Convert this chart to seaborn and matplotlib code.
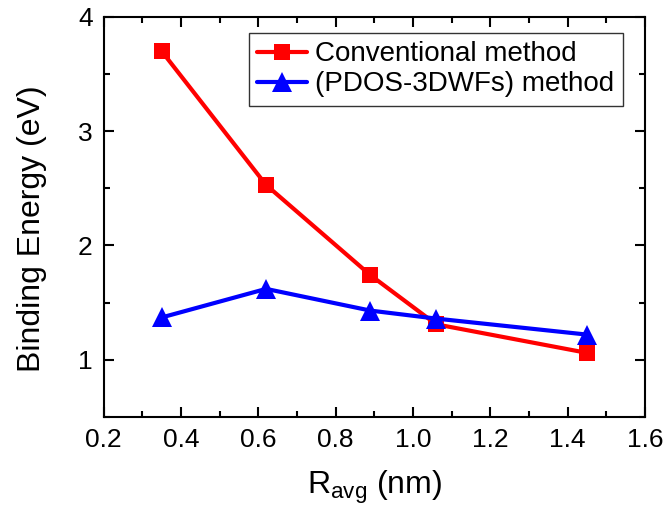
import matplotlib
matplotlib.use("Agg")
import matplotlib.pyplot as plt
import seaborn as sns
from matplotlib.ticker import MultipleLocator, FormatStrFormatter

# Average radius (nm) and binding energies (eV) for the two methods
r_avg = [0.35, 0.62, 0.89, 1.06, 1.45]
conventional = [3.70, 2.53, 1.74, 1.31, 1.06]
pdos_3dwfs = [1.37, 1.62, 1.43, 1.36, 1.22]
series_names = ["Conventional method", "(PDOS-3DWFs) method"]

sns.set_style("ticks", rc={
    "text.color": "black",
    "axes.labelcolor": "black",
    "xtick.color": "black",
    "ytick.color": "black",
    "axes.edgecolor": "black",
})
plt.rcParams["font.family"] = ["Liberation Sans", "DejaVu Sans"]
plt.rcParams["mathtext.fontset"] = "custom"
plt.rcParams["mathtext.rm"] = "Liberation Sans"

fig = plt.figure(figsize=(6.69, 5.14), dpi=100)
ax = fig.add_axes([0.155, 0.189, 0.809, 0.778])

sns.lineplot(x=r_avg, y=conventional, color="#ff0000", marker="s",
             markersize=11, linewidth=3, markeredgewidth=0,
             label=series_names[0], ax=ax)
sns.lineplot(x=r_avg, y=pdos_3dwfs, color="#0000ff", marker="^",
             markersize=14, linewidth=3, markeredgewidth=0,
             label=series_names[1], ax=ax)

ax.set_xlim(0.2, 1.6)
ax.set_ylim(0.5, 4)
ax.xaxis.set_major_locator(MultipleLocator(0.2))
ax.xaxis.set_minor_locator(MultipleLocator(0.1))
ax.yaxis.set_major_locator(MultipleLocator(1))
ax.yaxis.set_minor_locator(MultipleLocator(0.5))
ax.xaxis.set_major_formatter(FormatStrFormatter("%.1f"))

ax.tick_params(which="both", direction="in", top=True, right=True,
               width=1.5, colors="black")
ax.tick_params(which="major", length=7, labelsize=19, pad=8)
ax.tick_params(which="minor", length=4)
for sp in ax.spines.values():
    sp.set_linewidth(1.5)
    sp.set_color("black")

ax.set_xlabel(r"R$_{\mathrm{avg}}$ (nm)", fontsize=23, labelpad=12)
ax.set_ylabel("Binding Energy (eV)", fontsize=23, labelpad=22, y=0.47)

leg = ax.legend(loc="upper right", bbox_to_anchor=(0.959, 0.96),
                fontsize=20, frameon=True, fancybox=False,
                edgecolor="black", handlelength=1.8, handletextpad=0.3,
                borderpad=0.3, labelspacing=0.15, borderaxespad=0)
leg.get_frame().set_linewidth(1.0)

fig.savefig("out.png", dpi=100)
